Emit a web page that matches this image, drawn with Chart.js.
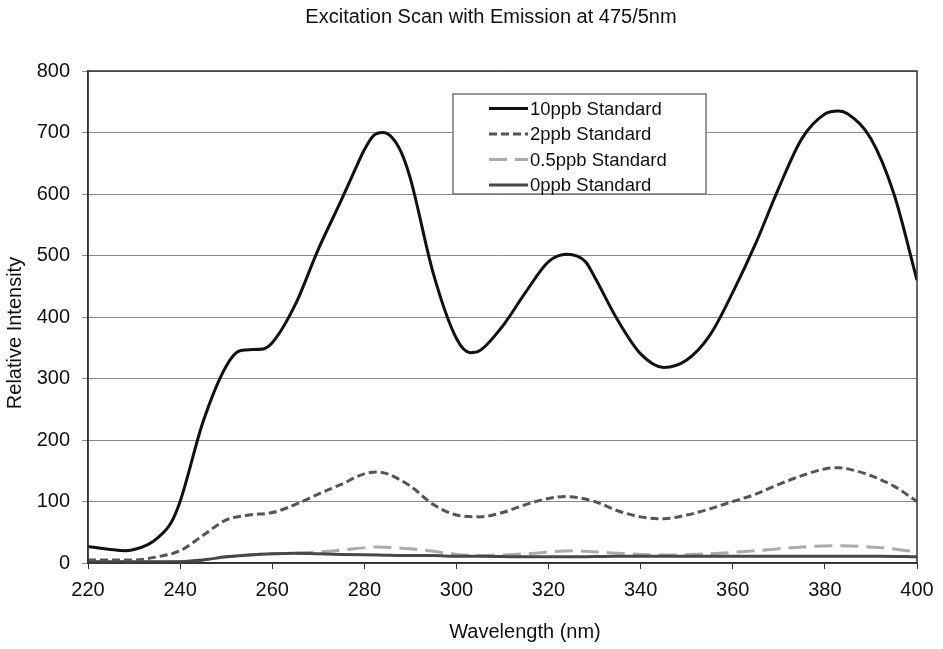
<!DOCTYPE html>
<html>
<head>
<meta charset="utf-8">
<script src="https://cdn.jsdelivr.net/npm/chart.js@4"></script>
<style>
  html, body { margin: 0; padding: 0; background: #fff; }
  #wrap { width: 943px; height: 649px; }
</style>
</head>
<body>
<div id="wrap"><canvas id="chart" width="943" height="649"></canvas></div>
<script>
// wavelengths (nm) and intensities
const wl10   = [220, 225, 228, 230, 233, 235, 238, 240, 245, 250, 253, 258, 260, 265, 270, 275, 278, 280, 282, 284, 286, 288, 290, 295, 300, 303, 305, 310, 315, 320, 324, 328, 330, 335, 340, 345, 350, 355, 360, 365, 370, 375, 380, 383, 385, 390, 395, 400];
const std10  = [27, 22, 20, 22, 30, 40, 65, 100, 230, 320, 345, 348, 358, 420, 510, 590, 640, 672, 695, 700, 692, 668, 625, 470, 365, 342, 345, 385, 440, 490, 502, 490, 465, 395, 340, 318, 330, 370, 440, 520, 610, 690, 730, 735, 730, 690, 600, 460];

const wl2    = [220, 230, 235, 240, 245, 250, 255, 260, 265, 270, 275, 280, 283, 285, 290, 295, 300, 305, 310, 315, 320, 324, 330, 335, 340, 345, 350, 355, 360, 365, 370, 375, 380, 383, 385, 390, 395, 400];
const std2   = [5, 5, 10, 20, 45, 70, 78, 82, 95, 112, 128, 145, 148, 145, 125, 95, 78, 75, 82, 95, 105, 108, 100, 85, 75, 72, 78, 88, 100, 112, 128, 142, 153, 155, 153, 142, 125, 100];

const wlLow  = [220, 230, 240, 245, 250, 255, 260, 265, 270, 275, 283, 290, 295, 300, 305, 315, 325, 335, 345, 355, 365, 375, 383, 392, 400];
const std05  = [2, 2, 2, 5, 10, 13, 15, 16, 18, 21, 26, 23, 19, 14, 12, 15, 20, 16, 13, 15, 20, 26, 28, 25, 18];
const std0   = [2, 2, 2, 5, 10, 13, 15, 16, 15, 14, 13, 12, 12, 11, 11, 10, 10, 11, 11, 11, 11, 11, 11, 11, 10];

const seriesNames = ['10ppb Standard', '2ppb Standard', '0.5ppb Standard', '0ppb Standard'];
const xTicks = [220, 240, 260, 280, 300, 320, 340, 360, 380, 400];
const yTicks = [0, 100, 200, 300, 400, 500, 600, 700, 800];

const FONT = 'Arial, "Liberation Sans", sans-serif';
const pts = (xs, ys) => xs.map((x, i) => ({ x, y: ys[i] }));

function line(label, data, color, dash, order) {
  return {
    label, data, order,
    borderColor: color,
    borderWidth: 3,
    borderDash: dash,
    pointRadius: 0,
    fill: false,
    cubicInterpolationMode: 'monotone',
  };
}

const datasets = [
  line(seriesNames[0], pts(wl10, std10), '#111111', [], 1),
  line(seriesNames[1], pts(wl2, std2), '#555555', [8, 4], 2),
  line(seriesNames[2], pts(wlLow, std05), '#ababab', [18, 8], 4),
  line(seriesNames[3], pts(wlLow, std0), '#484848', [], 3),
];

// box round the plot area, chart title and axis titles
const frame = {
  id: 'frame',
  afterDatasetsDraw(chart) {
    const { ctx, chartArea: a } = chart;
    ctx.save();
    ctx.strokeStyle = '#333';
    ctx.lineWidth = 1.5;
    ctx.strokeRect(a.left, a.top, a.right - a.left, a.bottom - a.top);
    ctx.fillStyle = '#111';
    ctx.font = '20px ' + FONT;
    ctx.textAlign = 'center';
    ctx.textBaseline = 'middle';
    ctx.fillText('Excitation Scan with Emission at 475/5nm', 491, 17);
    ctx.fillText('Wavelength (nm)', 525, 632);
    ctx.translate(15, 333);
    ctx.rotate(-Math.PI / 2);
    ctx.fillText('Relative Intensity', 0, 0);
    ctx.restore();
  }
};

// legend box inside the plot
const boxLegend = {
  id: 'boxLegend',
  afterDraw(chart) {
    const ctx = chart.ctx;
    const x = 453, y = 94, w = 253, h = 100;
    ctx.save();
    ctx.fillStyle = '#fff';
    ctx.fillRect(x, y, w, h);
    ctx.strokeStyle = '#777';
    ctx.lineWidth = 1.5;
    ctx.strokeRect(x, y, w, h);
    ctx.font = '18.5px ' + FONT;
    ctx.textBaseline = 'middle';
    chart.data.datasets.forEach((ds, i) => {
      const ly = 108.5 + i * 25.5;
      ctx.beginPath();
      ctx.strokeStyle = ds.borderColor;
      ctx.lineWidth = 3;
      ctx.setLineDash(ds.borderDash);
      ctx.moveTo(489, ly);
      ctx.lineTo(528, ly);
      ctx.stroke();
      ctx.setLineDash([]);
      ctx.fillStyle = '#111';
      ctx.fillText(ds.label, 530, ly + 1);
    });
    ctx.restore();
  }
};

new Chart(document.getElementById('chart'), {
  type: 'line',
  data: { datasets },
  plugins: [frame, boxLegend],
  options: {
    responsive: false,
    animation: false,
    layout: { padding: { left: 0, right: 26, top: 71, bottom: 0 } },
    plugins: {
      legend: { display: false },
      tooltip: { enabled: false },
      title: { display: false },
    },
    scales: {
      x: {
        type: 'linear',
        min: 220, max: 400,
        afterBuildTicks: s => { s.ticks = xTicks.map(v => ({ value: v })); },
        afterFit: s => { s.height = 86; },
        ticks: { color: '#111', font: { family: FONT, size: 20 }, padding: 9 },
        grid: { drawOnChartArea: false, color: '#333', tickLength: 6 },
        border: { color: '#333', width: 1.5 },
      },
      y: {
        min: 0, max: 800,
        afterBuildTicks: s => { s.ticks = yTicks.map(v => ({ value: v })); },
        afterFit: s => { s.width = 88; },
        ticks: { color: '#111', font: { family: FONT, size: 20 }, padding: 12 },
        grid: { color: '#8a8a8a', lineWidth: 1, tickLength: 6 },
        border: { color: '#333', width: 1.5 },
      },
    },
  },
});
</script>
</body>
</html>
